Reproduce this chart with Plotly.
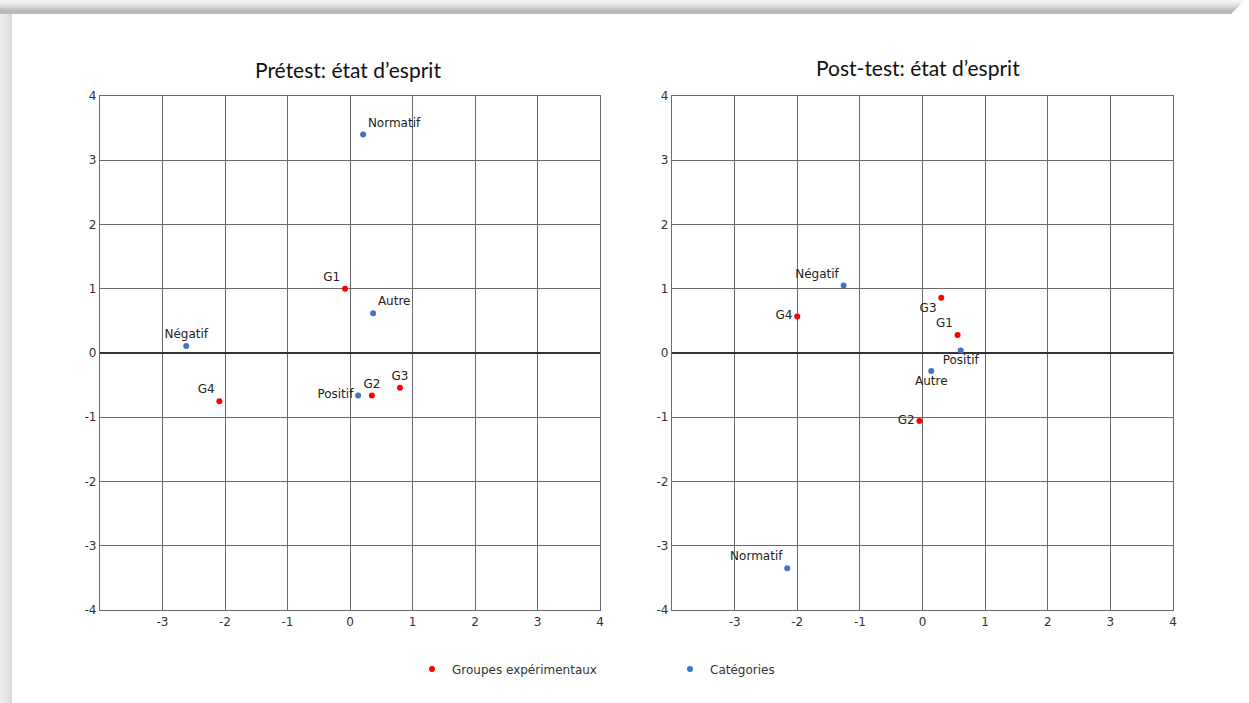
import plotly.graph_objects as go

# Prétest
pre_grp_names = ["G1", "G2", "G3", "G4"]
pre_grp_x = [-0.08, 0.35, 0.80, -2.09]
pre_grp_y = [1.00, -0.66, -0.54, -0.75]
pre_cat_names = ["Normatif", "Autre", "Négatif", "Positif"]
pre_cat_x = [0.21, 0.37, -2.62, 0.13]
pre_cat_y = [3.40, 0.62, 0.11, -0.66]

# Post-test
post_grp_names = ["G1", "G2", "G3", "G4"]
post_grp_x = [0.56, -0.05, 0.30, -2.00]
post_grp_y = [0.28, -1.06, 0.86, 0.57]
post_cat_names = ["Normatif", "Autre", "Négatif", "Positif"]
post_cat_x = [-2.16, 0.14, -1.26, 0.61]
post_cat_y = [-3.35, -0.28, 1.05, 0.04]

x_ticks = [-3, -2, -1, 0, 1, 2, 3, 4]
x_tick_text = ["-3", "-2", "-1", "0", "1", "2", "3", "4"]
y_ticks = [-4, -3, -2, -1, 0, 1, 2, 3, 4]
y_tick_text = ["-4", "-3", "-2", "-1", "0", "1", "2", "3", "4"]

RED = "#ff0000"
BLUE = "#4472c4"
W, H = 1249, 703
ML, MR, MT, MB = 100, 76, 96, 93


def px(x):
    return (x - ML) / (W - ML - MR)


def py(y):
    return (H - MB - y) / (H - MT - MB)


fig = go.Figure()

lab_font = dict(family="DejaVu Sans", size=12, color="#222")

# left panel
fig.add_trace(go.Scatter(
    x=pre_grp_x, y=pre_grp_y, text=pre_grp_names, mode="markers+text",
    textposition=["top left", "top center", "top center", "top left"],
    marker=dict(color=RED, size=6), textfont=lab_font,
    name="Groupes expérimentaux", xaxis="x", yaxis="y"))
fig.add_trace(go.Scatter(
    x=pre_cat_x, y=pre_cat_y, text=pre_cat_names, mode="markers+text",
    textposition=["top right", "top right", "top center", "middle left"],
    marker=dict(color=BLUE, size=6), textfont=lab_font,
    name="Catégories", xaxis="x", yaxis="y"))

# right panel
fig.add_trace(go.Scatter(
    x=post_grp_x, y=post_grp_y, text=post_grp_names, mode="markers+text",
    textposition=["top left", "middle left", "bottom left", "middle left"],
    marker=dict(color=RED, size=6), textfont=lab_font,
    showlegend=False, xaxis="x2", yaxis="y2"))
fig.add_trace(go.Scatter(
    x=post_cat_x, y=post_cat_y, text=post_cat_names, mode="markers+text",
    textposition=["top left", "bottom center", "top left", "bottom center"],
    marker=dict(color=BLUE, size=6), textfont=lab_font,
    showlegend=False, xaxis="x2", yaxis="y2"))

grid = "#6a6a6a"
ax_common = dict(
    range=[-4, 4], showgrid=True, gridcolor=grid, gridwidth=1.3,
    showline=True, linecolor=grid, linewidth=1.3, mirror=True,
    ticks="", tickfont=dict(family="DejaVu Sans", size=12, color="#333"),
    fixedrange=True,
)
x_common = dict(ax_common, zeroline=False, tickvals=x_ticks, ticktext=x_tick_text)
y_common = dict(ax_common, zeroline=True, zerolinecolor="#333333",
                zerolinewidth=2, tickvals=y_ticks, ticktext=y_tick_text)

fig.update_layout(
    width=W, height=H,
    margin=dict(l=ML, r=MR, t=MT, b=MB),
    plot_bgcolor="white", paper_bgcolor="white",
    xaxis=dict(x_common, domain=[0, px(600)], anchor="y"),
    yaxis=dict(y_common, domain=[0, 1], anchor="x"),
    xaxis2=dict(x_common, domain=[px(672), 1], anchor="y2"),
    yaxis2=dict(y_common, domain=[0, 1], anchor="x2"),
    legend=dict(orientation="h", x=px(412), y=py(669), yanchor="middle",
                xanchor="left", entrywidth=213, entrywidthmode="pixels",
                font=dict(family="DejaVu Sans", size=12, color="#333")),
    showlegend=True,
)

title_font = dict(family="Lato", size=21, color="#111")
fig.add_annotation(text="Prétest: état d’esprit", x=px(348), y=py(70),
                   xref="paper", yref="paper", xanchor="center", yanchor="middle",
                   showarrow=False, font=title_font)
fig.add_annotation(text="Post-test: état d’esprit", x=px(918), y=py(68),
                   xref="paper", yref="paper", xanchor="center", yanchor="middle",
                   showarrow=False, font=title_font)

# shadow frame at top and left
for i, a in enumerate([0.08, 0.14, 0.22, 0.32, 0.42, 0.50, 0.50]):
    fig.add_shape(type="rect", xref="paper", yref="paper",
                  x0=px(0), x1=px(1244 - i * 2), y0=py(2 * i + 2), y1=py(2 * i),
                  fillcolor=f"rgba(120,120,120,{a})", line_width=0, layer="below")
for i, a in enumerate([0.14, 0.16, 0.18, 0.2, 0.24, 0.28]):
    fig.add_shape(type="rect", xref="paper", yref="paper",
                  x0=px(2 * i), x1=px(2 * i + 2), y0=py(703), y1=py(14),
                  fillcolor=f"rgba(120,120,120,{a})", line_width=0, layer="below")

fig.write_html("out.html", config={"displayModeBar": False},
               post_script="document.body.style.margin='0';")
